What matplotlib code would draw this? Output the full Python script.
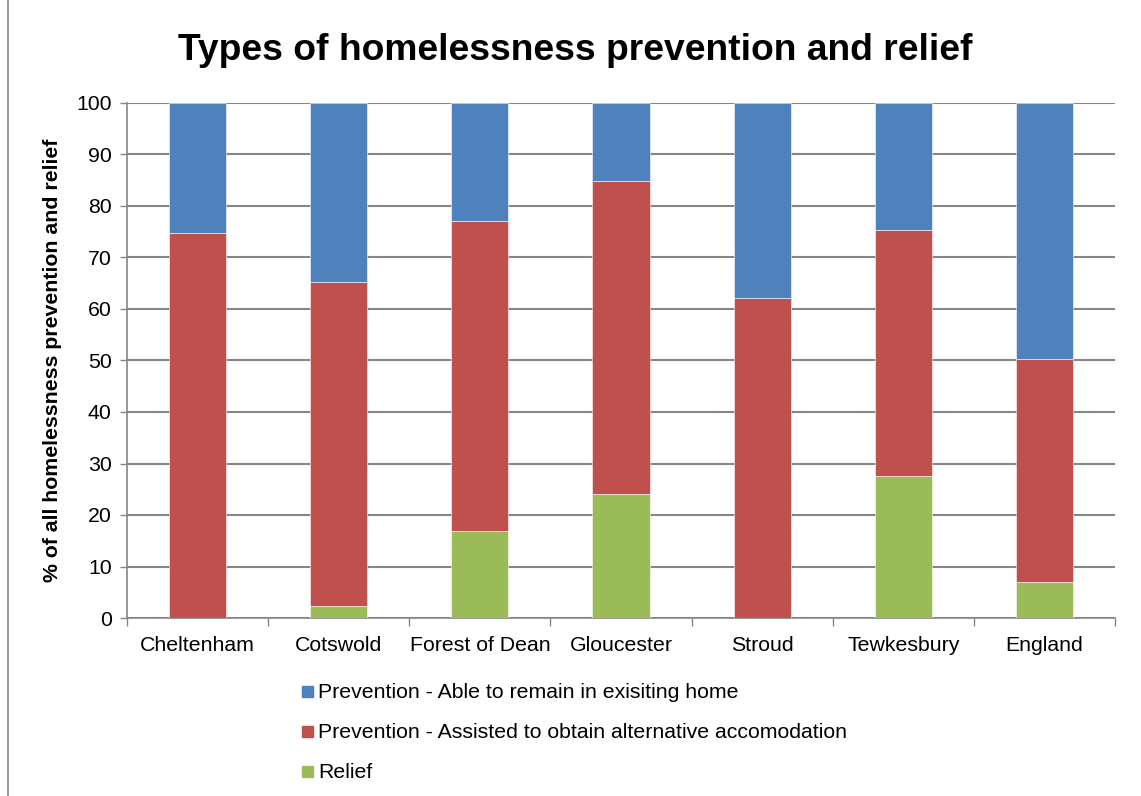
import matplotlib
matplotlib.use("Agg")
import matplotlib.pyplot as plt
from matplotlib.patches import Rectangle
import numpy as np

plt.rcParams['font.family'] = ['Liberation Sans', 'DejaVu Sans']

categories = ["Cheltenham", "Cotswold", "Forest of Dean", "Gloucester", "Stroud", "Tewkesbury", "England"]
relief = [0.0, 2.4, 16.8, 24.1, 0.0, 27.6, 7.0]
assisted = [74.8, 62.9, 60.2, 60.8, 62.2, 47.8, 43.3]
remain = [25.2, 34.7, 23.0, 15.1, 37.8, 24.6, 49.7]
series_names = ["Prevention - Able to remain in exisiting home",
                "Prevention - Assisted to obtain alternative accomodation",
                "Relief"]
colors = ["#4F81BD", "#C0504D", "#9BBB59"]
y_ticks = [0, 10, 20, 30, 40, 50, 60, 70, 80, 90, 100]

W, H = 1141, 796
fig = plt.figure(figsize=(W / 100, H / 100), dpi=100)
ax = fig.add_axes([127 / W, 1 - 618 / H, (1115 - 127) / W, (618 - 103) / H])

x = np.arange(len(categories))
bw = 0.405
ax.bar(x, relief, bw, color=colors[2], edgecolor='white', linewidth=0.4, zorder=3)
ax.bar(x, assisted, bw, bottom=relief, color=colors[1], edgecolor='white', linewidth=0.4, zorder=3)
bottom2 = np.array(relief) + np.array(assisted)
ax.bar(x, remain, bw, bottom=bottom2, color=colors[0], edgecolor='white', linewidth=0.4, zorder=3)

fs = 15.3
ax.set_xlim(-0.5, len(categories) - 0.5)
ax.set_ylim(0, 100)
ax.set_yticks(y_ticks)
ax.yaxis.grid(True, color='#868686', linewidth=1.5, zorder=0)
ax.set_axisbelow(True)
ax.tick_params(axis='y', length=5, width=1, color='#868686', labelsize=fs, pad=6)
ax.set_xticks(x)
ax.set_xticklabels(categories)
ax.set_xticks(np.arange(-0.5, len(categories)), minor=True)
ax.tick_params(axis='x', which='major', length=0, labelsize=fs, pad=13)
ax.tick_params(axis='x', which='minor', length=6, width=1, color='#868686')
for s in ['top', 'right']:
    ax.spines[s].set_visible(False)
for s in ['left', 'bottom']:
    ax.spines[s].set_color('#868686')
    ax.spines[s].set_linewidth(1.2)

ax.set_ylabel("% of all homelessness prevention and relief", fontsize=fs, fontweight='bold', labelpad=10)

fig.text(575 / W, 1 - 50 / H, "Types of homelessness prevention and relief",
         ha='center', va='center', fontsize=26.8, fontweight='bold')

# legend entries
leg_y = [692, 732, 772]
for yy, i in zip(leg_y, range(3)):
    fig.patches.append(Rectangle((302 / W, 1 - (yy + 5) / H), 11 / W, 11 / H,
                                 transform=fig.transFigure, color=colors[i], figure=fig))
    fig.text(318 / W, 1 - (yy + 1) / H, series_names[i], ha='left', va='center', fontsize=fs)

# chart border
fig.add_artist(plt.Line2D([8 / W, 8 / W], [0, 1], transform=fig.transFigure, color='#868686', linewidth=1.2))

fig.savefig("out.png", dpi=100)
